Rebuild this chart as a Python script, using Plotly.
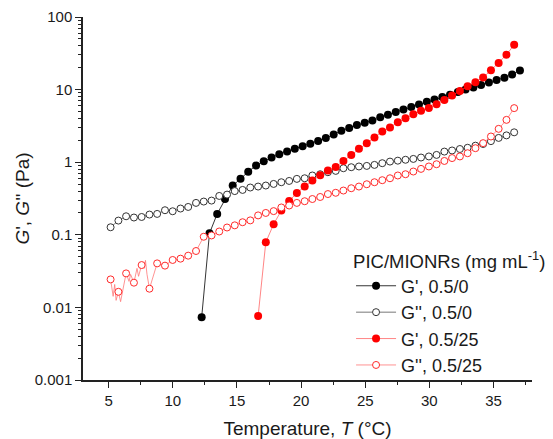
import plotly.graph_objects as go

# ---------------- data ----------------
# common temperature grid (°C) for G'' curves and red G'
T_grid = [5.15, 5.76, 6.36, 6.97, 7.57, 8.18, 8.78, 9.39, 9.99, 10.60,
          11.20, 11.81, 12.41, 13.02, 13.62, 14.23, 14.83, 15.44, 16.04, 16.65,
          17.25, 17.86, 18.46, 19.07, 19.67, 20.28, 20.88, 21.49, 22.09, 22.70,
          23.30, 23.91, 24.51, 25.12, 25.72, 26.33, 26.93, 27.54, 28.14, 28.75,
          29.35, 29.96, 30.56, 31.17, 31.77, 32.38, 32.98, 33.59, 34.19, 34.80,
          35.40, 36.01, 36.61]

# G'' 0.5/0 (black open)
g2_black = [0.127, 0.157, 0.180, 0.173, 0.176, 0.190, 0.194, 0.218, 0.211, 0.230,
            0.242, 0.275, 0.287, 0.296, 0.343, 0.358, 0.400, 0.415, 0.448, 0.462,
            0.477, 0.502, 0.530, 0.552, 0.589, 0.601, 0.656, 0.683, 0.728, 0.759,
            0.826, 0.853, 0.873, 0.889, 0.918, 0.969, 1.02, 1.05, 1.08, 1.11,
            1.16, 1.20, 1.26, 1.40, 1.45, 1.52, 1.58, 1.69, 1.78, 1.95,
            2.16, 2.34, 2.58]

# G'' 0.5/25 (red open)
g2_red = [0.0243, 0.0164, 0.0294, 0.0219, 0.0383, 0.0181, 0.0404, 0.0376, 0.0450, 0.0469,
          0.0516, 0.0598, 0.094, 0.098, 0.111, 0.126, 0.135, 0.149, 0.158, 0.185,
          0.200, 0.212, 0.238, 0.253, 0.275, 0.290, 0.311, 0.332, 0.364, 0.379,
          0.407, 0.438, 0.462, 0.497, 0.530, 0.565, 0.601, 0.656, 0.683, 0.744,
          0.809, 0.873, 0.938, 1.04, 1.14, 1.20, 1.33, 1.56, 1.83, 2.26,
          2.88, 3.83, 5.56]

# extra raw points of the noisy red G'' line (no markers)
g2_red_extra_T = [5.35, 5.47, 5.58, 5.93, 6.59, 6.71, 7.21, 7.33, 7.76, 7.87, 7.99]
g2_red_extra_v = [0.0142, 0.0207, 0.0125, 0.0120, 0.0228, 0.0285, 0.0345, 0.0268, 0.0345, 0.0445, 0.0285]

# G' 0.5/25 (red filled) – starts at 16.65 °C on the common grid
T_red_g1 = T_grid[19:]
g1_red = [0.0076, 0.079, 0.140, 0.216, 0.292, 0.377, 0.462, 0.560, 0.662, 0.769,
          0.861, 1.04, 1.26, 1.53, 1.83, 2.19, 2.65, 3.01, 3.56, 4.04,
          4.59, 5.10, 5.56, 6.30, 7.20, 8.30, 9.60, 11.1, 12.6, 14.7,
          18.4, 23.2, 30.2, 41.5]

# G' 0.5/0 (black filled)
T_black_g1 = [12.25, 12.86, 13.46, 14.07, 14.67, 15.28, 15.88, 16.49, 17.09, 17.70,
              18.30, 18.91, 19.51, 20.12, 20.72, 21.33, 21.93, 22.54, 23.14, 23.75,
              24.35, 24.96, 25.56, 26.17, 26.77, 27.38, 27.98, 28.59, 29.19, 29.80,
              30.40, 31.01, 31.61, 32.22, 32.82, 33.43, 34.03, 34.64, 35.24, 35.85,
              36.45, 37.06]
g1_black = [0.0073, 0.105, 0.194, 0.312, 0.477, 0.590, 0.740, 0.900, 1.03, 1.16,
            1.29, 1.40, 1.53, 1.66, 1.80, 1.96, 2.15, 2.40, 2.72, 2.97,
            3.25, 3.50, 3.75, 4.15, 4.50, 4.90, 5.30, 5.75, 6.25, 6.80,
            7.30, 7.90, 8.50, 9.30, 10.0, 10.7, 11.6, 12.5, 13.6, 14.6,
            16.2, 18.3]

series_names = ["G', 0.5/0", "G'', 0.5/0", "G', 0.5/25", "G'', 0.5/25"]

y_tickvals = [0.001, 0.01, 0.1, 1, 10, 100]
y_ticktext = ["0.001", "0.01", "0.1", "1", "10", "100"]
x_tickvals = [5, 10, 15, 20, 25, 30, 35]

# ---------------- figure ----------------
FONT = "Liberation Sans, Arial, sans-serif"
MS = 8
LEG = 18

fig = go.Figure()

# black G'
fig.add_trace(go.Scatter(
    x=T_black_g1, y=g1_black, mode="lines+markers", name=series_names[0],
    line=dict(color="#000000", width=0.8),
    marker=dict(symbol="circle", size=MS, color="#000000", line=dict(width=0))))

# black G''
fig.add_trace(go.Scatter(
    x=T_grid, y=g2_black, mode="lines+markers", name=series_names[1],
    line=dict(color="#555555", width=0.8),
    marker=dict(symbol="circle", size=MS - 1, color="white",
                line=dict(color="#333333", width=1))))

# red G'
fig.add_trace(go.Scatter(
    x=T_red_g1, y=g1_red, mode="lines+markers", name=series_names[2],
    line=dict(color="#ff6666", width=0.8),
    marker=dict(symbol="circle", size=MS, color="#ff0000", line=dict(width=0))))

# red G'' noisy line (marker points + extra raw points)
pairs = sorted(list(zip(T_grid, g2_red)) + list(zip(g2_red_extra_T, g2_red_extra_v)))
fig.add_trace(go.Scatter(
    x=[p[0] for p in pairs], y=[p[1] for p in pairs], mode="lines",
    line=dict(color="#ff7777", width=0.8), showlegend=False, hoverinfo="skip"))
# red G'' markers
fig.add_trace(go.Scatter(
    x=T_grid, y=g2_red, mode="markers", showlegend=False,
    marker=dict(symbol="circle", size=MS - 1, color="white",
                line=dict(color="#ff2a2a", width=1))))
# legend entry for red G''
fig.add_trace(go.Scatter(
    x=[None], y=[None], mode="lines+markers", name=series_names[3],
    line=dict(color="#ff7777", width=0.8),
    marker=dict(symbol="circle", size=MS - 1, color="white",
                line=dict(color="#ff2a2a", width=1))))

minor_log = [m * 10 ** e for e in range(-3, 2) for m in range(2, 10)]

fig.update_layout(
    width=553, height=439,
    margin=dict(l=83, r=21, t=17, b=59, autoexpand=False),
    paper_bgcolor="white", plot_bgcolor="white",
    font=dict(family=FONT, size=15, color="#1a1a1a"),
    showlegend=True,
    legend=dict(
        x=0.597, y=0.376, xanchor="left", yanchor="top",
        bgcolor="rgba(0,0,0,0)", borderwidth=0,
        font=dict(family=FONT, size=LEG, color="#1a1a1a"),
        title=dict(text="PIC/MIONRs (mg mL<sup>-1</sup>)",
                   font=dict(family=FONT, size=LEG + 0.5, color="#1a1a1a")),
        itemwidth=40, tracegroupgap=0,
    ),
    xaxis=dict(
        type="linear", range=[3, 38], automargin=False,
        tickvals=x_tickvals, ticks="outside", ticklen=6, tickwidth=1.3,
        tickcolor="#222", showline=True, linecolor="#222", linewidth=1.5,
        showgrid=False, zeroline=False, mirror=False,
        tickfont=dict(family=FONT, size=15),
        minor=dict(ticks="outside", ticklen=3.5, tickwidth=1, tickcolor="#222",
                   dtick=2.5, tick0=0, showgrid=False),
        title=dict(text="Temperature, <i>T</i> (°C)",
                   font=dict(family=FONT, size=19), standoff=14),
    ),
    yaxis=dict(
        type="log", range=[-3, 2], automargin=False,
        tickvals=y_tickvals, ticktext=y_ticktext,
        ticks="outside", ticklen=6, tickwidth=1.3, tickcolor="#222",
        showline=True, linecolor="#222", linewidth=1.5,
        showgrid=False, zeroline=False, mirror=False,
        tickfont=dict(family=FONT, size=15),
        minor=dict(ticks="outside", ticklen=3.5, tickwidth=1, tickcolor="#222",
                   tickvals=minor_log, showgrid=False),
        title=dict(text="<i>G</i>', <i>G</i>'' (Pa)",
                   font=dict(family=FONT, size=19), standoff=0),
    ),
)

fig.write_html("out.html")
